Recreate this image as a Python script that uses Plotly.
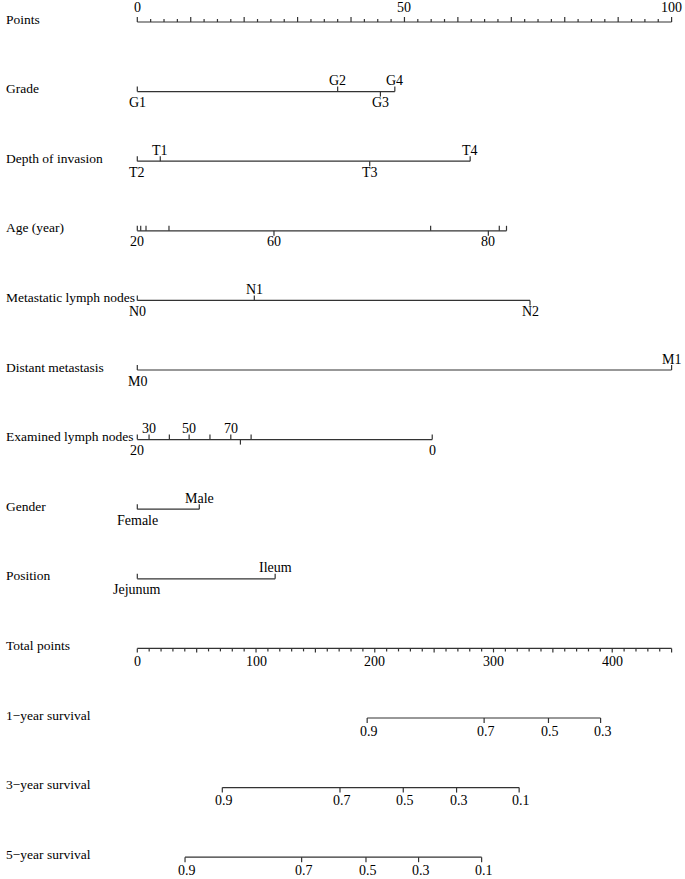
import plotly.graph_objects as go

# ---------------- data ----------------
row_names = ["Points", "Grade", "Depth of invasion", "Age (year)", "Metastatic lymph nodes",
             "Distant metastasis", "Examined lymph nodes", "Gender", "Position", "Total points",
             "1\u2212year survival", "3\u2212year survival", "5\u2212year survival"]

points_max = 100
points_tick_step = 2.5
points_labels = [0, 50, 100]

grade_labels = ["G1", "G2", "G3", "G4"]
grade_points = [0, 37.5, 45.5, 48.2]

depth_labels = ["T1", "T2", "T3", "T4"]
depth_points = [4.3, 0, 43.5, 62.3]

age_labels = ["20", "", "", "", "60", "", "80", "", ""]
age_points = [0, 0.64, 1.63, 5.93, 25.58, 54.9, 65.7, 67.75, 69.1]

meta_labels = ["N0", "N1", "N2"]
meta_points = [0, 21.9, 73.5]

dist_labels = ["M0", "M1"]
dist_points = [0, 100]

eln_labels = ["20", "30", "", "50", "", "70", "", "", "0"]
eln_points = [0, 2.2, 6.0, 9.7, 13.6, 17.5, 19.3, 21.3, 55.2]

gender_labels = ["Female", "Male"]
gender_points = [0, 11.6]

position_labels = ["Jejunum", "Ileum"]
position_points = [0, 25.8]

total_max = 450
total_tick_step = 10
total_labels = [0, 100, 200, 300, 400]

surv1_probs = ["0.9", "0.7", "0.5", "0.3"]
surv1_total = [193.6, 292.1, 346.3, 390.2]
surv3_probs = ["0.9", "0.7", "0.5", "0.3", "0.1"]
surv3_total = [71.6, 170.7, 224.0, 268.9, 321.6]
surv5_probs = ["0.9", "0.7", "0.5", "0.3", "0.1"]
surv5_total = [40.2, 138.4, 192.6, 236.9, 290.0]

# ---------------- style ----------------
ROW_PX = 69.6
TOP_PX = 22
H, W = 879, 685
PX = 1.0 / ROW_PX
LINE_COLOR = "#333333"
FONT = dict(family="Liberation Serif, Times New Roman, serif", size=14, color="black")
NAME_FONT = dict(family="Liberation Serif, Times New Roman, serif", size=13.5, color="black")
x_left_px, x_right_px = 137.3, 671.6
span = points_max * W / (x_right_px - x_left_px)
xmin = -x_left_px / W * span
xmax = xmin + span

fig = go.Figure()
annotations = []


def add_segments(xs_list, ys_list):
    xs, ys = [], []
    for xx, yy in zip(xs_list, ys_list):
        xs += list(xx) + [None]
        ys += list(yy) + [None]
    fig.add_trace(go.Scatter(x=xs, y=ys, mode="lines", hoverinfo="skip",
                             line=dict(color=LINE_COLOR, width=1.2), showlegend=False))


def label(x, row, text, side):
    annotations.append(dict(x=x, y=row, xref="x", yref="y", text=text, showarrow=False,
                            font=FONT, xanchor="center", yanchor="middle",
                            yshift=(11 if side == "above" else -11)))


def variable_row(row, labels, pts, sides, dirs):
    seg_x = [[min(pts), max(pts)]]
    seg_y = [[row, row]]
    for p, d in zip(pts, dirs):
        seg_x.append([p, p])
        seg_y.append([row, row - 5 * PX if d == "up" else row + 5 * PX])
    add_segments(seg_x, seg_y)
    for p, t, s in zip(pts, labels, sides):
        if t:
            label(p, row, t, s)


# Points axis (row 0)
n = int(points_max / points_tick_step)
seg_x = [[0, points_max]]
seg_y = [[0, 0]]
for i in range(n + 1):
    v = i * points_tick_step
    h = 5 if abs(v % 10) < 1e-9 else 3
    seg_x.append([v, v])
    seg_y.append([0, -h * PX])
add_segments(seg_x, seg_y)
for v in points_labels:
    annotations.append(dict(x=v, y=0, xref="x", yref="y", text=str(v), showarrow=False,
                            font=FONT, yshift=15))

variable_row(1, grade_labels, grade_points, ["below", "above", "below", "above"],
             ["up", "up", "down", "up"])
variable_row(2, depth_labels, depth_points, ["above", "below", "below", "above"],
             ["up", "up", "down", "up"])
variable_row(3, age_labels, age_points, ["below"] * len(age_points),
             ["up", "up", "up", "up", "down", "up", "down", "up", "up"])
variable_row(4, meta_labels, meta_points, ["below", "above", "below"], ["up", "up", "down"])
variable_row(5, dist_labels, dist_points, ["below", "above"], ["up", "up"])
variable_row(6, eln_labels, eln_points,
             ["below", "above", "above", "above", "above", "above", "below", "above", "below"],
             ["up", "up", "up", "up", "up", "up", "down", "up", "up"])
variable_row(7, gender_labels, gender_points, ["below", "above"], ["up", "up"])
variable_row(8, position_labels, position_points, ["below", "above"], ["up", "up"])

# Total points axis (row 9)
scale = points_max / total_max
n = int(total_max / total_tick_step)
seg_x = [[0, total_max * scale]]
seg_y = [[9, 9]]
for i in range(n + 1):
    v = i * total_tick_step
    h = 4 if v % 50 == 0 else 3
    seg_x.append([v * scale, v * scale])
    seg_y.append([9, 9 + h * PX])
add_segments(seg_x, seg_y)
for v in total_labels:
    annotations.append(dict(x=v * scale, y=9, xref="x", yref="y", text=str(v), showarrow=False,
                            font=FONT, yshift=-13))

# Survival rows
for row, probs, tot in [(10, surv1_probs, surv1_total), (11, surv3_probs, surv3_total),
                        (12, surv5_probs, surv5_total)]:
    xs = [t * scale for t in tot]
    seg_x = [[min(xs), max(xs)]]
    seg_y = [[row, row]]
    for x in xs:
        seg_x.append([x, x])
        seg_y.append([row, row + 5 * PX])
    add_segments(seg_x, seg_y)
    for x, p in zip(xs, probs):
        annotations.append(dict(x=x, y=row, xref="x", yref="y", text=p, showarrow=False,
                                font=FONT, xshift=2, yshift=-13))

# Row names
for i, name in enumerate(row_names):
    annotations.append(dict(x=4 / W, y=i, xref="paper", yref="y", text=name, showarrow=False,
                            font=NAME_FONT, xanchor="left", yanchor="middle", yshift=3))

fig.update_layout(
    width=W, height=H, margin=dict(l=0, r=0, t=0, b=0),
    paper_bgcolor="white", plot_bgcolor="white",
    xaxis=dict(range=[xmin, xmax], visible=False, fixedrange=True),
    yaxis=dict(range=[(H - TOP_PX) / ROW_PX, -TOP_PX / ROW_PX], visible=False, fixedrange=True),
    annotations=annotations, showlegend=False,
)

fig.write_html("out.html", config={"displayModeBar": False},
               post_script="document.body.style.margin='0';document.body.style.overflow='hidden';")
